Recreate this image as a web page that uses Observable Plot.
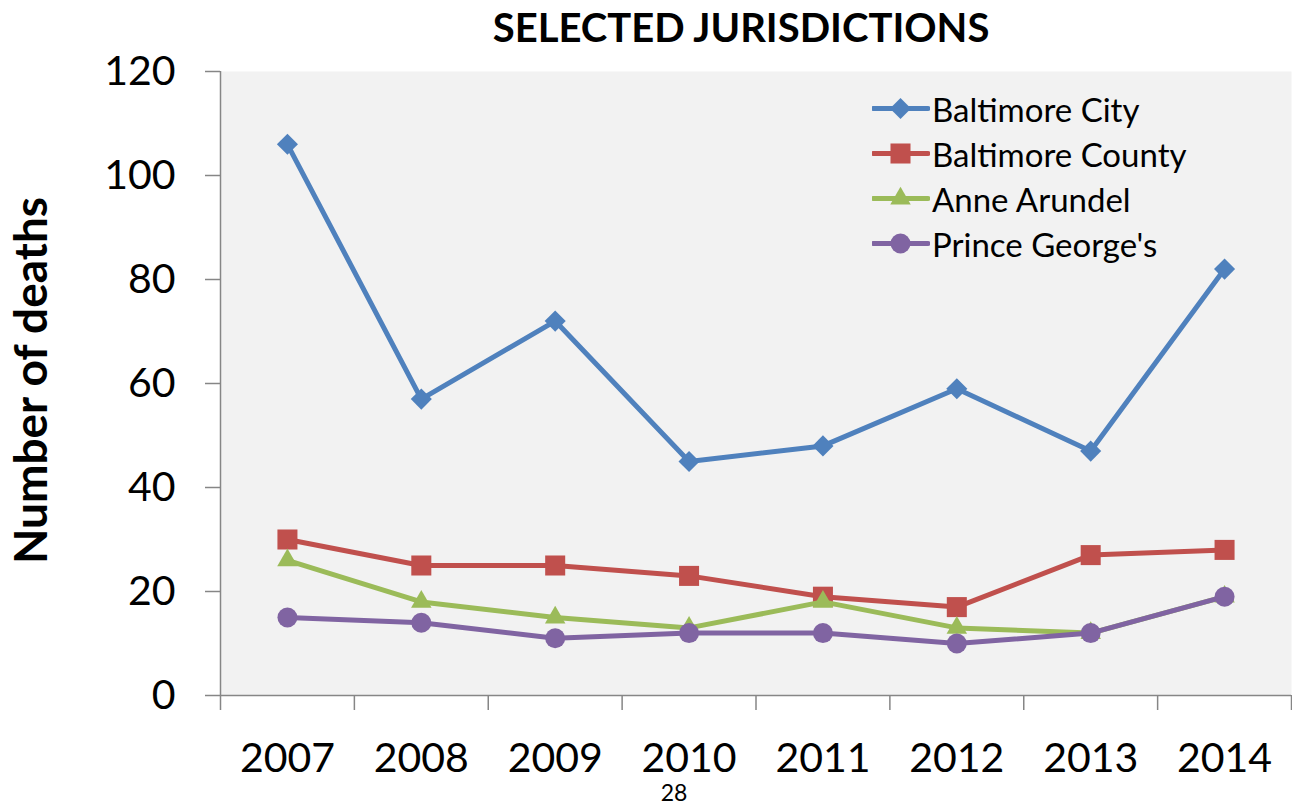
<!DOCTYPE html>
<html>
<head>
<meta charset="utf-8">
<script src="https://cdn.jsdelivr.net/npm/d3@7"></script>
<script src="https://cdn.jsdelivr.net/npm/@observablehq/plot@0.6"></script>
<style>
  html, body { margin: 0; padding: 0; background: #fff; }
  #wrap { position: relative; width: 1292px; height: 805px; font-family: Lato, sans-serif; }
  #legend { position: absolute; left: 872px; top: 86px; }
  .row { display: flex; align-items: center; height: 45px; }
  .row span { font-size: 33px; color: #000; margin-left: 2px; white-space: nowrap; }
</style>
</head>
<body>
<div id="wrap"><div id="legend"></div></div>
<script>
const years = [2007, 2008, 2009, 2010, 2011, 2012, 2013, 2014];
const baltimoreCity   = [106, 57, 72, 45, 48, 59, 47, 82];
const baltimoreCounty = [30, 25, 25, 23, 19, 17, 27, 28];
const anneArundel     = [26, 18, 15, 13, 18, 13, 12, 19];
const princeGeorges   = [15, 14, 11, 12, 12, 10, 12, 19];
const seriesNames  = ["Baltimore City", "Baltimore County", "Anne Arundel", "Prince George's"];
const seriesValues = [baltimoreCity, baltimoreCounty, anneArundel, princeGeorges];
const seriesColors = ["#4F81BD", "#C0504D", "#9BBB59", "#8064A2"];
const seriesSymbols = ["diamond2", "square", "triangle", "circle"];
const seriesR = [9.5, 11.3, 7.6, 10];
const yTicks = [0, 20, 40, 60, 80, 100, 120];
const titleText = "SELECTED JURISDICTIONS";
const yLabel = "Number of deaths";
const pageNumber = "28";

const bounds = [...years.map(y => y - 0.5), years[years.length - 1] + 0.5];
const axisGray = "#868686";

const seriesMarks = [];
seriesNames.forEach((name, s) => {
  const rows = years.map((yr, i) => ({year: yr, value: seriesValues[s][i]}));
  seriesMarks.push(Plot.line(rows, {x: "year", y: "value", stroke: seriesColors[s], strokeWidth: 5}));
  seriesMarks.push(Plot.dot(rows, {x: "year", y: "value", symbol: () => seriesSymbols[s], r: seriesR[s], fill: seriesColors[s], stroke: "none"}));
});

const chart = Plot.plot({
  width: 1292,
  height: 805,
  marginTop: 71,
  marginBottom: 110,
  marginLeft: 220,
  marginRight: 1,
  style: {fontFamily: "Lato, sans-serif", background: "transparent", color: "black"},
  x: {domain: [bounds[0], bounds[bounds.length - 1]]},
  y: {domain: [yTicks[0], yTicks[yTicks.length - 1]]},
  symbol: {type: "identity"},
  marks: [
    Plot.frame({fill: "#F2F2F2", stroke: "none"}),
    Plot.axisY({ticks: yTicks, tickSize: 15, tickPadding: 30, fontSize: 41, stroke: axisGray, strokeWidth: 1.5, fill: "black", tickFormat: d => String(d), label: null}),
    Plot.axisX({ticks: bounds, tickSize: 15, tickFormat: () => "", stroke: axisGray, strokeWidth: 1.5, label: null}),
    Plot.axisX({ticks: years, tickSize: 0, tickPadding: 47, fontSize: 41, fill: "black", tickFormat: d => String(d), label: null}),
    Plot.ruleY([yTicks[0]], {stroke: axisGray, strokeWidth: 1.5}),
    Plot.ruleX([bounds[0]], {stroke: axisGray, strokeWidth: 1.5}),
    ...seriesMarks,
    Plot.text([titleText], {text: d => d, frameAnchor: "top", textAnchor: "middle", lineAnchor: "middle", dx: -15, dy: -42, fontSize: 40, fontWeight: "bold", fill: "black"}),
    Plot.text([yLabel], {text: d => d, frameAnchor: "left", textAnchor: "middle", lineAnchor: "middle", rotate: -90, dx: -188, dy: -3, fontSize: 46, fontWeight: "bold", fill: "black"}),
    Plot.text([pageNumber], {text: d => d, frameAnchor: "bottom", textAnchor: "middle", lineAnchor: "middle", dx: -82, dy: 98, fontSize: 23, fill: "black"})
  ]
});
document.getElementById("wrap").prepend(chart);

// Legend
const legend = d3.select("#legend");
const symMap = {diamond2: d3.symbolDiamond2, square: d3.symbolSquare, triangle: d3.symbolTriangle, circle: d3.symbolCircle};
seriesNames.forEach((name, s) => {
  const row = legend.append("div").attr("class", "row");
  const svg = row.append("svg").attr("width", 58).attr("height", 45);
  svg.append("line").attr("x1", 1).attr("x2", 56).attr("y1", 22.5).attr("y2", 22.5)
    .attr("stroke", seriesColors[s]).attr("stroke-width", 5).attr("stroke-linecap", "round");
  svg.append("path")
    .attr("transform", "translate(28.5,22.5)")
    .attr("d", d3.symbol(symMap[seriesSymbols[s]], Math.PI * seriesR[s] * seriesR[s])())
    .attr("fill", seriesColors[s]);
  row.append("span").text(name);
});
</script>
</body>
</html>
